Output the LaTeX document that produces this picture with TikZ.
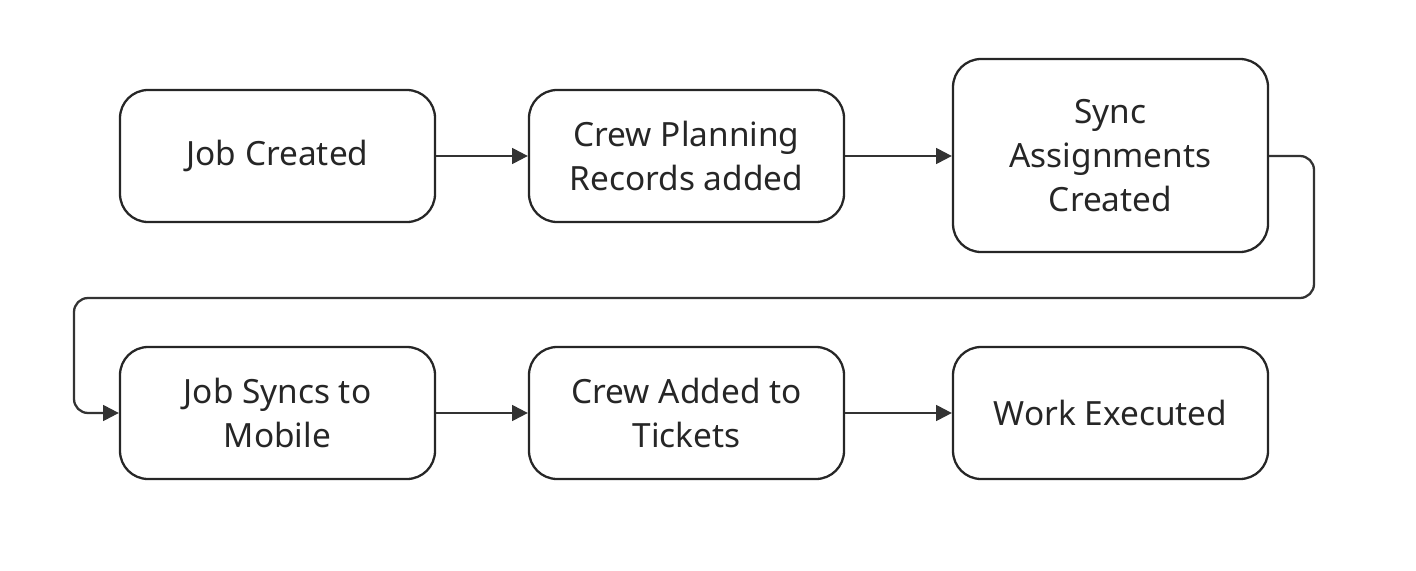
\documentclass[tikz,border=0pt]{standalone}
\usepackage{fontspec}
\setmainfont{Noto Sans}
\usetikzlibrary{arrows.meta}
\tikzset{
  stepbox/.style={draw=black!85,line width=1.3pt,rounded corners=16pt,minimum width=315*0.02cm,
    minimum height=132*0.02cm,align=center,font=\fontsize{19}{25}\selectfont,text=black!85},
  flow/.style={draw=black!80,line width=1.3pt,-{Triangle[length=9pt,width=9pt]}}
}
\begin{document}
\begin{tikzpicture}[x=0.02cm,y=-0.02cm]
\useasboundingbox (0,0) rectangle (1416,571);
\node[stepbox] (job) at (277.5,156) {Job Created};
\node[stepbox] (plan) at (686.5,156) {Crew Planning\\Records added};
\node[stepbox,minimum height=193*0.02cm] (sync) at (1110.5,155.5) {Sync\\Assignments\\Created};
\node[stepbox] (mobile) at (277.5,413) {Job Syncs to\\Mobile};
\node[stepbox] (crew) at (686.5,413) {Crew Added to\\Tickets};
\node[stepbox] (work) at (1110.5,413) {Work Executed};

\draw[flow] (job) -- (plan);
\draw[flow] (plan) -- (plan -| sync.west);
\draw[flow,rounded corners=8pt] (sync.east |- job) -- (1314,156) -- (1314,298) -- (74,298) -- (74,413) -- (mobile.west);
\draw[flow] (mobile) -- (crew);
\draw[flow] (crew) -- (work);
\end{tikzpicture}
\end{document}
